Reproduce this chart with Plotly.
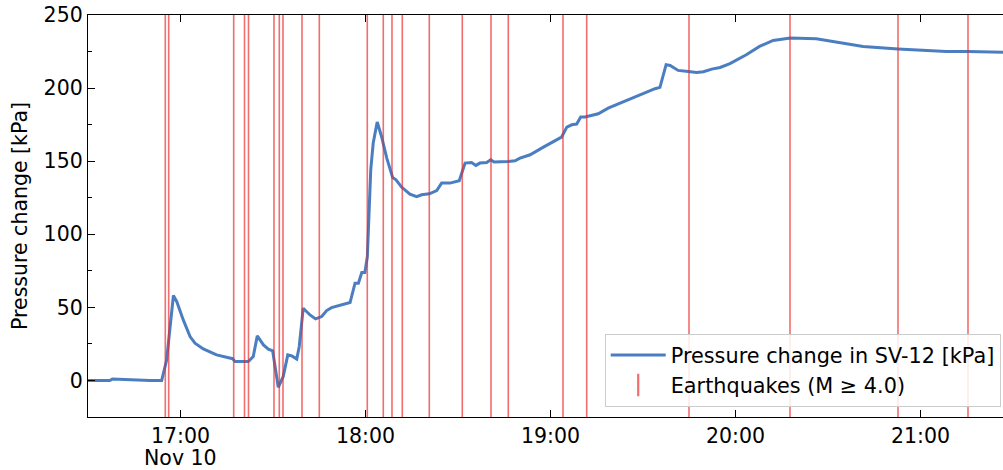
import pandas as pd
import plotly.graph_objects as go

# ---- data ----
base_time = "2023-11-10 16:30:00"

# pressure series: minutes after 16:30 and pressure change [kPa]
pressure_minutes = [0, 7.1, 7.9, 12.6, 20.1, 23.9, 25.5, 27.7, 28.8, 30.9, 33.1, 34.7, 37.4,
                    41.7, 46.9, 47.7, 52.0, 53.6, 54.9, 56.9, 58.5, 59.9, 61.7, 63.3, 64.8,
                    66.1, 67.7, 68.5, 69.8, 72.0, 73.8, 75.8, 77.4, 79.0, 82.3, 85.0, 86.6,
                    87.7, 88.8, 89.8, 90.6, 91.7, 92.5, 93.8, 95.2, 96.9, 98.8, 99.9, 101.7,
                    104.4, 106.6, 108.2, 110.7, 113.1, 114.7, 117.4, 120.4, 122.3, 124.4,
                    125.8, 127.1, 129.3, 130.6, 131.7, 136.3, 138.5, 140.1, 143.4, 147.7,
                    152.0, 153.6, 155.3, 156.9, 158.5, 159.8, 161.2, 165.5, 168.7, 173.1,
                    178.0, 182.3, 183.9, 185.5, 187.5, 188.8, 191.4, 194.7, 197.4, 199.6,
                    202.3, 205.0, 208.2, 213.5, 217.8, 222.2, 227.8, 236.2, 243.8, 251.4,
                    262.7, 270.8, 278.4, 285.5, 296.8, 300.0]
pressure_kpa = [0, 0, 1.0, 0.5, 0, 0, 14.0, 58.1, 53.9, 41.4, 30.0, 25.5, 21.6,
                17.5, 14.9, 12.9, 12.9, 16.3, 30.5, 24.3, 21.4, 20.2, -4.7, 2.6, 17.5,
                16.8, 14.7, 23.1, 49.4, 44.8, 42.1, 43.7, 47.8, 49.8, 51.7, 53.3, 66.5,
                66.5, 73.8, 73.8, 84.8, 144.1, 162.4, 176.8, 166.9, 152.1, 138.8, 137.3, 132.3,
                127.5, 125.8, 127.0, 127.7, 129.9, 135.0, 135.0, 136.6, 148.7, 149.1,
                147.1, 148.7, 149.1, 151.0, 149.4, 149.8, 150.3, 152.1, 154.4, 159.6,
                164.6, 166.5, 173.3, 174.9, 175.4, 180.2, 180.2, 182.4, 186.3, 190.2,
                194.8, 198.2, 199.6, 200.5, 216.0, 215.5, 212.1, 211.4, 210.7, 211.2,
                213.0, 214.1, 216.7, 222.8, 228.5, 232.6, 234.2, 233.8, 231.3, 228.5,
                226.8, 225.8, 225.1, 225.1, 224.4, 224.3]

# earthquakes (M >= 4.0): minutes after 16:30
quake_minutes = [25.07, 26.17, 47.25, 50.76, 52.05, 60.32, 62.04, 63.24, 69.41, 75.02,
                 90.58, 95.77, 98.59, 101.93, 110.69, 121.39, 130.70, 136.31, 154.05,
                 161.74, 194.92, 227.68, 262.70, 285.41]

tick_times = ["2023-11-10 17:00", "2023-11-10 18:00", "2023-11-10 19:00",
              "2023-11-10 20:00", "2023-11-10 21:00"]
tick_labels = ["17:00", "18:00", "19:00", "20:00", "21:00"]
date_label = "Nov 10"
x_range_minutes = [0, 296.76]
y_range = [-25, 250]

series_name = "Pressure change in SV-12 [kPa]"
quake_name = "Earthquakes (M \u2265 4.0)"
y_title = "Pressure change [kPa]"

# ---- build ----
t0 = pd.Timestamp(base_time)
px = [t0 + pd.to_timedelta(m, unit="min") for m in pressure_minutes]
qx = [t0 + pd.to_timedelta(m, unit="min") for m in quake_minutes]

QUAKE_COLOR = "rgba(236,40,40,0.68)"
LINE_COLOR = "rgb(74,126,193)"
FONT = "DejaVu Sans"
FS = 20.5

fig = go.Figure()

# vertical earthquake lines
lx, ly = [], []
for q in qx:
    lx += [q, q, None]
    ly += [y_range[0], y_range[1], None]

fig.add_trace(go.Scatter(x=px, y=pressure_kpa, mode="lines", name=series_name,
                         line=dict(color=LINE_COLOR, width=3), legendgroup="a"))
fig.add_trace(go.Scatter(x=lx, y=ly, mode="lines", showlegend=False,
                         line=dict(color=QUAKE_COLOR, width=1.6), hoverinfo="skip"))
fig.add_trace(go.Scatter(x=[None], y=[None], mode="markers", name=quake_name,
                         legendgroup="b",
                         marker=dict(symbol="line-ns", size=20,
                                     line=dict(color=QUAKE_COLOR, width=2.2))))

xr = [t0 + pd.to_timedelta(m, unit="min") for m in x_range_minutes]

fig.update_layout(
    width=1003, height=470,
    margin=dict(l=88, r=0, t=15, b=53),
    paper_bgcolor="white", plot_bgcolor="white",
    font=dict(family=FONT, size=FS, color="black"),
    showlegend=True,
    legend=dict(x=0.9975, xanchor="right", y=0.025, yanchor="bottom",
                bgcolor="rgba(255,255,255,0.85)", bordercolor="#cccccc", borderwidth=1,
                font=dict(size=20.8), traceorder="grouped", tracegroupgap=0,
                itemwidth=55),
    xaxis=dict(type="date", range=xr, showgrid=False, zeroline=False,
               showline=True, linecolor="black", linewidth=1.3, mirror="ticks",
               ticks="inside", ticklen=7, tickwidth=1.3, tickcolor="black",
               tickmode="array", tickvals=tick_times, ticktext=tick_labels,
               tickfont=dict(size=FS)),
    yaxis=dict(range=y_range, showgrid=False, zeroline=False,
               showline=True, linecolor="black", linewidth=1.3,
               ticks="inside", ticklen=7, tickwidth=1.3, tickcolor="black",
               tick0=0, dtick=50, tickfont=dict(size=FS),
               minor=dict(ticks="inside", ticklen=4, tickwidth=1.3, tickcolor="black",
                          dtick=25, tick0=0, showgrid=False),
               title=dict(text=y_title, font=dict(size=FS), standoff=10)),
)

fig.add_annotation(x=tick_times[0], xref="x", y=0, yref="paper", yshift=-27,
                   text=date_label, showarrow=False, yanchor="top",
                   font=dict(size=FS, family=FONT, color="black"))

fig.write_html("out.html")
